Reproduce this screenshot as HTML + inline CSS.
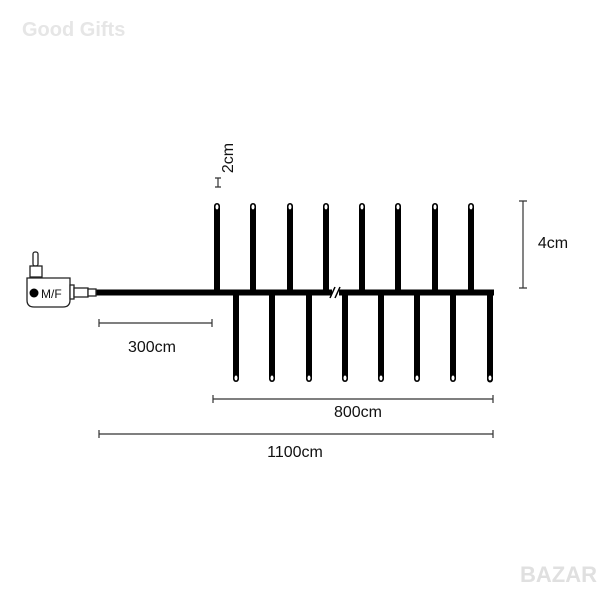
<!DOCTYPE html>
<html><head><style>body{margin:0;background:#fff}</style></head><body>
<svg width="600" height="600" viewBox="0 0 600 600" xmlns="http://www.w3.org/2000/svg" font-family="'Liberation Sans', sans-serif">
<rect width="600" height="600" fill="#fff"/>
<text x="22" y="36" font-size="20" font-weight="bold" fill="#e6e6e6">Good Gifts</text>
<text x="520" y="582" font-size="22" font-weight="bold" fill="#e0e0e0">BAZAR</text>
<rect x="96" y="289.5" width="398" height="6" fill="#000"/>
<g fill="#000">
<rect x="214" y="203" width="6" height="90" rx="3"/>
<rect x="250" y="203" width="6" height="90" rx="3"/>
<rect x="287" y="203" width="6" height="90" rx="3"/>
<rect x="323" y="203" width="6" height="90" rx="3"/>
<rect x="359" y="203" width="6" height="90" rx="3"/>
<rect x="395" y="203" width="6" height="90" rx="3"/>
<rect x="432" y="203" width="6" height="90" rx="3"/>
<rect x="468" y="203" width="6" height="90" rx="3"/>
<rect x="233" y="292" width="6" height="90" rx="3"/>
<rect x="269" y="292" width="6" height="90" rx="3"/>
<rect x="306" y="292" width="6" height="90" rx="3"/>
<rect x="342" y="292" width="6" height="90" rx="3"/>
<rect x="378" y="292" width="6" height="90" rx="3"/>
<rect x="414" y="292" width="6" height="90" rx="3"/>
<rect x="450" y="292" width="6" height="90" rx="3"/>
<rect x="487" y="289.5" width="6" height="93" rx="3"/>
</g>
<g fill="#fff">
<ellipse cx="217" cy="207" rx="1.5" ry="2.5"/><ellipse cx="253" cy="207" rx="1.5" ry="2.5"/>
<ellipse cx="290" cy="207" rx="1.5" ry="2.5"/><ellipse cx="326" cy="207" rx="1.5" ry="2.5"/>
<ellipse cx="362" cy="207" rx="1.5" ry="2.5"/><ellipse cx="398" cy="207" rx="1.5" ry="2.5"/>
<ellipse cx="435" cy="207" rx="1.5" ry="2.5"/><ellipse cx="471" cy="207" rx="1.5" ry="2.5"/>
<ellipse cx="236" cy="378" rx="1.5" ry="2.5"/><ellipse cx="272" cy="378" rx="1.5" ry="2.5"/>
<ellipse cx="309" cy="378" rx="1.5" ry="2.5"/><ellipse cx="345" cy="378" rx="1.5" ry="2.5"/>
<ellipse cx="381" cy="378" rx="1.5" ry="2.5"/><ellipse cx="417" cy="378" rx="1.5" ry="2.5"/>
<ellipse cx="453" cy="378" rx="1.5" ry="2.5"/><ellipse cx="490" cy="378" rx="1.5" ry="2.5"/>
</g>
<rect x="332" y="288" width="7" height="9" fill="#fff"/>
<line x1="330" y1="298" x2="335" y2="287" stroke="#000" stroke-width="1.5"/>
<line x1="335" y1="298" x2="340" y2="287" stroke="#000" stroke-width="1.5"/>
<g stroke="#222" stroke-width="1.3" fill="#fff">
<rect x="33" y="252" width="5" height="14" rx="2"/>
<rect x="30" y="266" width="12" height="11"/>
<path d="M27 278 H70 V300 Q70 307 63 307 H34 Q27 307 27 300 Z"/>
<rect x="70" y="285" width="4" height="14"/>
<rect x="74" y="288" width="14" height="9"/>
<rect x="88" y="289" width="8" height="7"/>
</g>
<circle cx="34" cy="293" r="4.5" fill="#000"/>
<text x="41" y="298" font-size="12" fill="#111">M/F</text>
<g stroke="#333" stroke-width="1.2" fill="none">
<path d="M523 201V288M519 201H527M519 288H527"/>
<path d="M99 323H212M99 319V327M212 319V327"/>
<path d="M213 399H493M213 395V403M493 395V403"/>
<path d="M99 434H493M99 430V438M493 430V438"/>
<path d="M218 178V187M215 178H221M215 187H221"/>
</g>
<g font-size="16" fill="#111" text-anchor="middle">
<text x="553" y="248">4cm</text>
<text x="152" y="352">300cm</text>
<text x="358" y="417">800cm</text>
<text x="295" y="457">1100cm</text>
<text transform="translate(233,158) rotate(-90)">2cm</text>
</g>
</svg>
</body></html>
